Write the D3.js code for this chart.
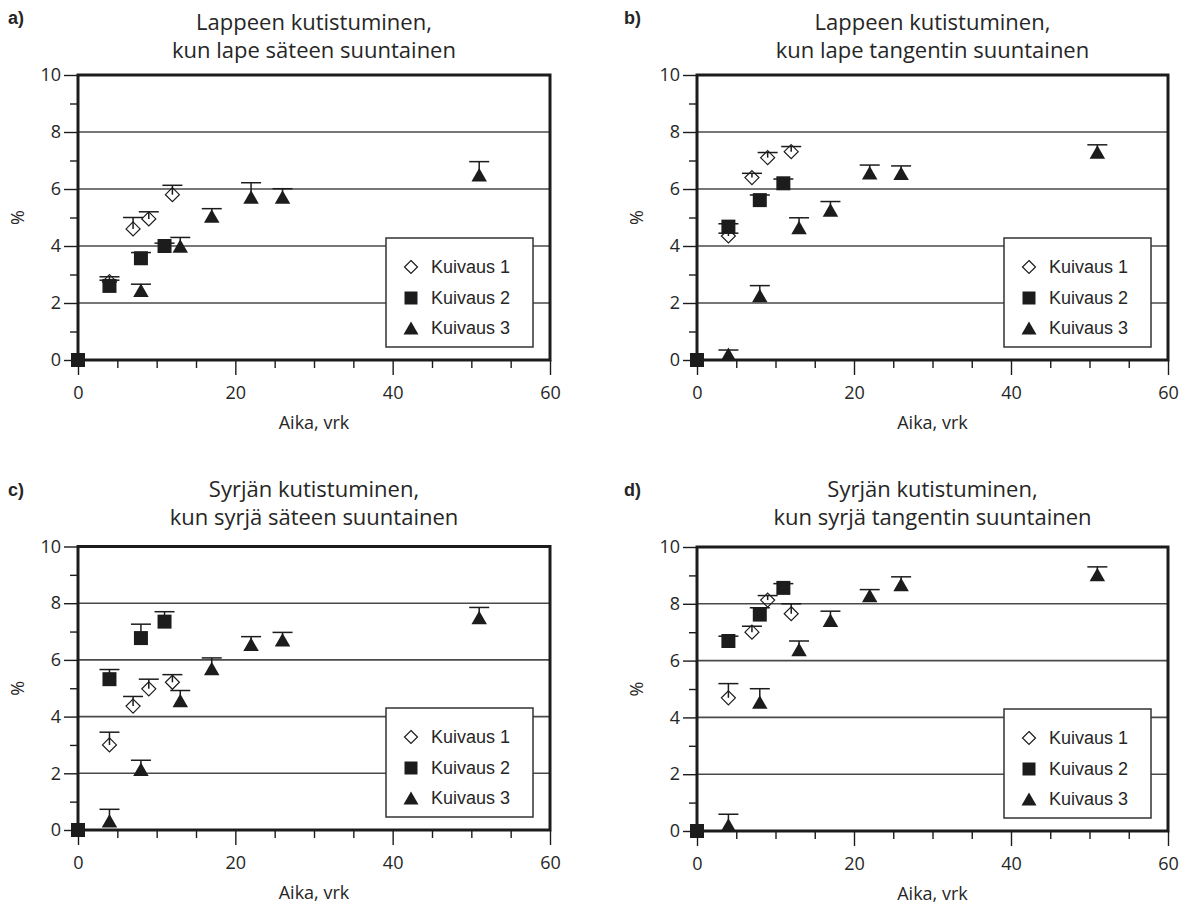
<!DOCTYPE html>
<html><head><meta charset="utf-8">
<script src="https://cdn.jsdelivr.net/npm/d3@7/dist/d3.min.js"></script>
<style>
body{margin:0;background:#fff;}
svg text{font-family:"Open Sans",sans-serif;fill:#262626;}
</style></head><body>
<svg id="chart" width="1192" height="907"></svg>
<script>
// ---- text ----
const seriesNames = ["Kuivaus 1", "Kuivaus 2", "Kuivaus 3"];
const panelLetters = ["a)", "b)", "c)", "d)"];
const titleLine1 = ["Lappeen kutistuminen,", "Lappeen kutistuminen,", "Syrjän kutistuminen,", "Syrjän kutistuminen,"];
const titleLine2 = ["kun lape säteen suuntainen", "kun lape tangentin suuntainen", "kun syrjä säteen suuntainen", "kun syrjä tangentin suuntainen"];
const xAxisLabel = "Aika, vrk";
const yAxisLabel = "%";
const xTickLabels = [0, 20, 40, 60];
const xMinorTicks = [5, 10, 15, 25, 30, 35, 45, 50, 55];
const yTickLabels = [0, 2, 4, 6, 8, 10];
const yMinorTicks = [1, 3, 5, 7, 9];
const gridValues = [2, 4, 6, 8];

// ---- days (x) ----
const k1Days = [4, 7, 9, 12];
const k2Days = [0, 4, 8, 11];
const k3DaysA = [8, 13, 17, 22, 26, 51];
const k3Days = [4, 8, 13, 17, 22, 26, 51];

// ---- panel a ----
const aK1 = [2.75, 4.6, 4.95, 5.8];     const aK1Err = [0.17, 0.4, 0.25, 0.33];
const aK2 = [0, 2.6, 3.57, 4.0];        const aK2Err = [0, 0.2, 0.2, 0.1];
const aK3 = [2.45, 4.0, 5.05, 5.72, 5.72, 6.5]; const aK3Err = [0.21, 0.3, 0.26, 0.5, 0.29, 0.46];
// ---- panel b ----
const bK1 = [4.35, 6.4, 7.1, 7.31];     const bK1Err = [0.1, 0.15, 0.18, 0.18];
const bK2 = [0, 4.68, 5.61, 6.2];       const bK2Err = [0, 0.1, 0.18, 0.15];
const bK3 = [0.2, 2.26, 4.65, 5.26, 6.57, 6.55, 7.3]; const bK3Err = [0.15, 0.35, 0.34, 0.3, 0.27, 0.26, 0.25];
// ---- panel c ----
const cK1 = [3.0, 4.37, 4.98, 5.21];    const cK1Err = [0.45, 0.34, 0.34, 0.27];
const cK2 = [0, 5.32, 6.77, 7.35];      const cK2Err = [0, 0.34, 0.49, 0.35];
const cK3 = [0.33, 2.14, 4.57, 5.7, 6.55, 6.71, 7.5]; const cK3Err = [0.4, 0.32, 0.35, 0.37, 0.27, 0.26, 0.35];
// ---- panel d ----
const dK1 = [4.69, 7.0, 8.13, 7.65];    const dK1Err = [0.5, 0.21, 0.16, 0.35];
const dK2 = [0, 6.69, 7.62, 8.56];      const dK2Err = [0, 0.17, 0.24, 0.15];
const dK3 = [0.21, 4.54, 6.39, 7.42, 8.29, 8.68, 9.03]; const dK3Err = [0.38, 0.47, 0.3, 0.32, 0.21, 0.27, 0.27];

function mk(days, vals, errs){ return days.map((d,i)=>({x:d, y:vals[i], e:errs[i]})); }
const panelData = [
  [mk(k1Days,aK1,aK1Err), mk(k2Days,aK2,aK2Err), mk(k3DaysA,aK3,aK3Err)],
  [mk(k1Days,bK1,bK1Err), mk(k2Days,bK2,bK2Err), mk(k3Days,bK3,bK3Err)],
  [mk(k1Days,cK1,cK1Err), mk(k2Days,cK2,cK2Err), mk(k3Days,cK3,cK3Err)],
  [mk(k1Days,dK1,dK1Err), mk(k2Days,dK2,dK2Err), mk(k3Days,dK3,dK3Err)]
];

// ---- layout ----
const layout = [
  {x0:78,  x1:550,  y0:360, y1:75,  t1:30,  t2:58,  lx:8,   ly:24},
  {x0:697, x1:1168, y0:360, y1:75,  t1:30,  t2:58,  lx:624, ly:24},
  {x0:78,  x1:550,  y0:830, y1:546.5, t1:497, t2:525, lx:8,   ly:496},
  {x0:697, x1:1168, y0:831, y1:547, t1:497, t2:525, lx:624, ly:496}
];

const svg = d3.select("#chart");
const ink = "#1c1c1c";

function diamondPath(r){ return `M0,${-r}L${r},0L0,${r}L${-r},0Z`; }
function trianglePath(w,h){ return `M0,${-h/2}L${w/2},${h/2}L${-w/2},${h/2}Z`; }
function squarePath(s){ return `M${-s/2},${-s/2}h${s}v${s}h${-s}Z`; }

const markerStyles = [
  {path: diamondPath(7),      fill: "none", stroke: ink, sw: 1.2},
  {path: squarePath(14),      fill: ink,    stroke: "none", sw: 0},
  {path: trianglePath(15.5,13.5), fill: ink, stroke: "none", sw: 0}
];
const legendStyles = [
  {path: diamondPath(6.5),    fill: "none", stroke: ink, sw: 1.2},
  {path: squarePath(13),      fill: ink,    stroke: "none", sw: 0},
  {path: trianglePath(15,13), fill: ink,    stroke: "none", sw: 0}
];

layout.forEach((L, pi) => {
  const g = svg.append("g");
  const x = d3.scaleLinear().domain([0,60]).range([L.x0, L.x1]);
  const y = d3.scaleLinear().domain([0,10]).range([L.y0, L.y1]);

  // gridlines
  g.selectAll("line.grid").data(gridValues).enter().append("line")
    .attr("x1", L.x0).attr("x2", L.x1)
    .attr("y1", d=>y(d)).attr("y2", d=>y(d))
    .attr("stroke", "#4a4a4a").attr("stroke-width", 1.6);

  // axes: major + minor ticks
  const xMajor = g.append("g").attr("transform", `translate(0,${L.y0})`)
    .call(d3.axisBottom(x).tickValues(xTickLabels).tickSize(15).tickPadding(8).tickFormat(d3.format("d")));
  const xMinor = g.append("g").attr("transform", `translate(0,${L.y0})`)
    .call(d3.axisBottom(x).tickValues(xMinorTicks).tickSize(8).tickFormat(""));
  const yMajor = g.append("g").attr("transform", `translate(${L.x0},0)`)
    .call(d3.axisLeft(y).tickValues(yTickLabels).tickSize(14).tickPadding(3).tickFormat(d3.format("d")));
  const yMinor = g.append("g").attr("transform", `translate(${L.x0},0)`)
    .call(d3.axisLeft(y).tickValues(yMinorTicks).tickSize(8).tickFormat(""));
  [xMajor, xMinor, yMajor, yMinor].forEach(a => {
    a.select(".domain").remove();
    a.selectAll(".tick line").attr("stroke", ink).attr("stroke-width", 1.4);
    a.selectAll(".tick text").attr("font-family", "'Open Sans', sans-serif").attr("font-size", 18).attr("fill", "#262626");
  });
  xMajor.selectAll(".tick text").attr("dy", "0.9em");

  // frame
  g.append("rect").attr("x", L.x0).attr("y", L.y1)
    .attr("width", L.x1 - L.x0).attr("height", L.y0 - L.y1)
    .attr("fill", "none").attr("stroke", ink).attr("stroke-width", 3);

  // legend
  const lw = 147, lh = 109;
  const lx = L.x1 - 17 - lw, ly = L.y0 - 13 - lh;
  const lg = g.append("g").attr("transform", `translate(${lx},${ly})`);
  lg.append("rect").attr("width", lw).attr("height", lh)
    .attr("fill", "#fff").attr("stroke", "#333").attr("stroke-width", 1.5);
  const rows = [29, 60, 90];
  seriesNames.forEach((name, i) => {
    const s = legendStyles[i];
    lg.append("path").attr("d", s.path).attr("transform", `translate(25,${rows[i]})`)
      .attr("fill", s.fill).attr("stroke", s.stroke).attr("stroke-width", s.sw);
    lg.append("text").attr("x", 45).attr("y", rows[i]).attr("dy", "0.36em")
      .attr("font-size", 18)
      .style("font-family", "'Liberation Sans', Arial, sans-serif")
      .text(name);
  });

  // data: error bars then markers; draw order diamonds, triangles, squares
  const order = [0, 2, 1];
  order.forEach(si => {
    const pts = panelData[pi][si];
    const eb = g.append("g").attr("stroke", ink).attr("stroke-width", 1.5);
    pts.filter(p => p.e > 0).forEach(p => {
      eb.append("line").attr("x1", x(p.x)).attr("x2", x(p.x)).attr("y1", y(p.y)).attr("y2", y(p.y + p.e));
      eb.append("line").attr("x1", x(p.x) - 10).attr("x2", x(p.x) + 10).attr("y1", y(p.y + p.e)).attr("y2", y(p.y + p.e));
    });
    const s = markerStyles[si];
    g.selectAll(null).data(pts).enter().append("path")
      .attr("d", s.path)
      .attr("transform", p => `translate(${x(p.x)},${y(p.y)})`)
      .attr("fill", s.fill).attr("stroke", s.stroke).attr("stroke-width", s.sw);
  });

  // titles
  const cx = (L.x0 + L.x1) / 2;
  g.append("text").attr("x", cx).attr("y", L.t1).attr("text-anchor", "middle").attr("font-size", 22).text(titleLine1[pi]);
  g.append("text").attr("x", cx).attr("y", L.t2).attr("text-anchor", "middle").attr("font-size", 22).text(titleLine2[pi]);

  // axis labels
  g.append("text").attr("x", cx).attr("y", L.y0 + 69).attr("text-anchor", "middle").attr("font-size", 18).text(xAxisLabel);
  g.append("text").attr("transform", `translate(${L.x0 - 54},${(L.y0 + L.y1)/2}) rotate(-90)`)
    .attr("text-anchor", "middle").attr("font-size", 18).text(yAxisLabel);

  // panel letter
  g.append("text").attr("x", L.lx).attr("y", L.ly).attr("font-size", 18).attr("font-weight", "bold")
    .style("font-family", "'Liberation Sans Narrow', 'Liberation Sans', Arial, sans-serif")
    .text(panelLetters[pi]);
});
</script>
</body></html>
